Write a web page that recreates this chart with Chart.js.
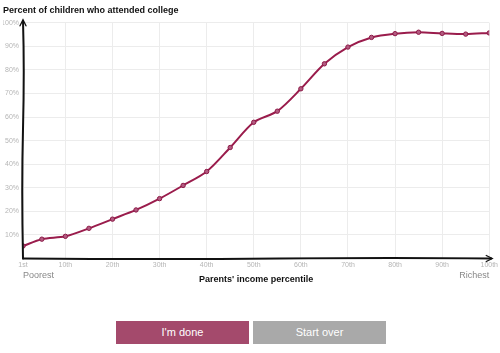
<!DOCTYPE html>
<html>
<head>
<meta charset="utf-8">
<script src="https://cdn.jsdelivr.net/npm/chart.js@4"></script>
<style>
  body { margin: 0; background: #fff; font-family: "Liberation Sans", Arial, sans-serif; }
  #wrap { position: relative; width: 500px; height: 353px; }
  canvas { position: absolute; left: 0; top: 0; }
  .btn { position: absolute; top: 321px; width: 133px; height: 23px; line-height: 23px;
         text-align: center; color: #fff; font-size: 11px; }
  #done { left: 116px; background: #a44a6c; }
  #over { left: 253px; background: #a9a9a9; }
</style>
</head>
<body>
<div id="wrap">
  <canvas id="chart" width="500" height="300"></canvas>
  <div class="btn" id="done">I'm done</div>
  <div class="btn" id="over">Start over</div>
</div>
<script>
// percentile of parents' income -> percent of children attending college
const percentiles = [1, 5, 10, 15, 20, 25, 30, 35, 40, 45, 50, 55, 60, 65, 70, 75, 80, 85, 90, 95, 100];
const attended = [5.3, 8.2, 9.4, 12.8, 16.7, 20.6, 25.4, 31, 36.9, 47.1, 57.8, 62.5, 72, 82.6, 89.7, 93.8, 95.4, 96, 95.5, 95.2, 95.7];
const xTicks = [1, 10, 20, 30, 40, 50, 60, 70, 80, 90, 100];
const xTickLabels = ["1st", "10th", "20th", "30th", "40th", "50th", "60th", "70th", "80th", "90th", "100th"];

const tickFont = { family: "Liberation Sans", size: 7 };
const boldFont = { family: "Liberation Sans", size: 9, weight: "bold" };

// hand-drawn looking axes + end labels
const axesPlugin = {
  id: "axes",
  afterDraw(chart) {
    const { ctx, chartArea: a } = chart;
    const h = a.bottom - a.top, w = a.right - a.left;
    ctx.save();
    ctx.strokeStyle = "#111";
    ctx.lineWidth = 2;
    ctx.lineCap = "round";
    // y axis
    ctx.beginPath();
    ctx.moveTo(a.left, a.bottom);
    ctx.quadraticCurveTo(a.left - 1.5, a.top + h * 0.7, a.left, a.top + h * 0.45);
    ctx.quadraticCurveTo(a.left + 1.5, a.top + h * 0.2, a.left, a.top - 2);
    ctx.stroke();
    ctx.lineWidth = 1.3;
    ctx.beginPath();
    ctx.moveTo(a.left - 3, a.top + 3);
    ctx.lineTo(a.left, a.top - 3);
    ctx.lineTo(a.left + 3, a.top + 3);
    ctx.stroke();
    // x axis
    ctx.lineWidth = 2;
    ctx.beginPath();
    ctx.moveTo(a.left, a.bottom);
    ctx.quadraticCurveTo(a.left + w * 0.3, a.bottom + 1.2, a.left + w * 0.55, a.bottom);
    ctx.quadraticCurveTo(a.left + w * 0.8, a.bottom - 1, a.right + 2, a.bottom);
    ctx.stroke();
    ctx.lineWidth = 1.3;
    ctx.beginPath();
    ctx.moveTo(a.right - 3, a.bottom - 3);
    ctx.lineTo(a.right + 3, a.bottom);
    ctx.lineTo(a.right - 3, a.bottom + 3);
    ctx.stroke();
    // Poorest / Richest
    ctx.fillStyle = "#888";
    ctx.font = "9px 'Liberation Sans'";
    ctx.textBaseline = "middle";
    ctx.textAlign = "left";
    ctx.fillText("Poorest", a.left, 276);
    ctx.textAlign = "right";
    ctx.fillText("Richest", a.right, 276);
    ctx.restore();
  }
};

new Chart(document.getElementById("chart"), {
  type: "line",
  data: {
    datasets: [{
      data: percentiles.map((p, i) => ({ x: p, y: attended[i] })),
      borderColor: "#9a1c4c",
      borderWidth: 2,
      pointRadius: 2.2,
      pointBackgroundColor: "#b35a80",
      pointBorderColor: "#8c1a47",
      pointBorderWidth: 1,
      tension: 0.3
    }]
  },
  options: {
    responsive: false,
    animation: false,
    layout: { padding: { left: 3, right: 10, top: 0, bottom: 0 } },
    plugins: {
      legend: { display: false },
      tooltip: { enabled: false },
      title: {
        display: true,
        text: "Percent of children who attended college",
        align: "start",
        color: "#111",
        font: boldFont,
        padding: { top: 5, bottom: 7 }
      }
    },
    scales: {
      x: {
        type: "linear",
        min: 1,
        max: 100,
        afterBuildTicks(scale) { scale.ticks = xTicks.map(v => ({ value: v })); },
        afterFit(scale) { scale.height = 41.5; },
        ticks: {
          color: "#b5b5b5",
          font: tickFont,
          padding: 2,
          maxRotation: 0,
          callback: (v) => xTickLabels[xTicks.indexOf(v)]
        },
        grid: { color: "#ececec", drawTicks: false },
        border: { display: false },
        title: {
          display: true,
          text: "Parents' income percentile",
          color: "#111",
          font: boldFont,
          padding: { top: 0, bottom: 15 }
        }
      },
      y: {
        min: 0,
        max: 100,
        afterFit(scale) { scale.width = 20; },
        ticks: {
          stepSize: 10,
          color: "#b5b5b5",
          font: tickFont,
          padding: 4,
          callback: (v) => v === 0 ? "" : v + "%"
        },
        grid: { color: "#ececec", drawTicks: false },
        border: { display: false }
      }
    }
  },
  plugins: [axesPlugin]
});
</script>
</body>
</html>
